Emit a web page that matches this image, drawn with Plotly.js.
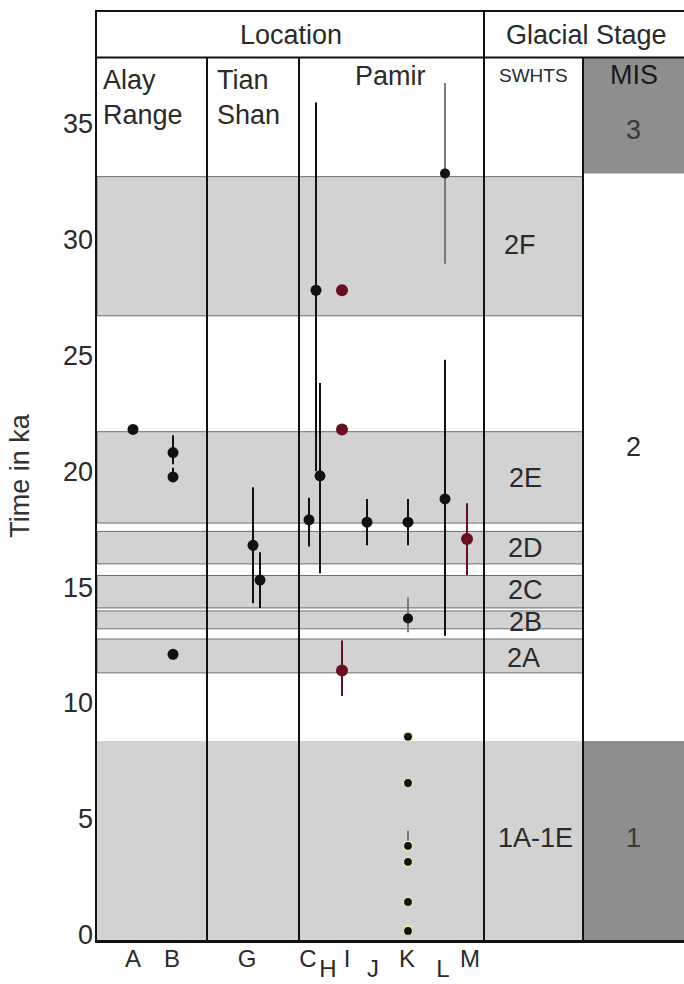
<!DOCTYPE html>
<html>
<head>
<meta charset="utf-8">
<script src="https://cdn.plot.ly/plotly-3.0.1.min.js"></script>
<style>html,body{margin:0;padding:0;background:#fff;}#chart{width:684px;height:984px;}</style>
</head>
<body>
<div id="chart"></div>
<script>
// ---------------- DATA ----------------
const sites = ['A', 'B', 'G', 'C', 'H', 'I', 'J', 'K', 'L', 'M'];
const lowerSites = ['H', 'J', 'L'];

// black dated points (ka) with asymmetric errors
const blackSite    = ['A', 'B', 'B', 'B', 'G', 'G2', 'C', 'H', 'H2', 'J', 'K', 'L'];
const blackAge     = [21.8, 20.8, 19.75, 12.1, 16.8, 15.3, 17.9, 27.8, 19.8, 17.8, 17.8, 18.8];
const blackErrUp   = [0, 0.75, 0.4, 0, 2.5, 1.2, 0.95, 8.1, 4.0, 1.0, 1.0, 6.0];
const blackErrDown = [0, 0.5, 0.2, 0, 2.5, 1.2, 1.15, 7.8, 4.2, 1.0, 1.0, 5.9];

// points with grey error bars
const greySite    = ['L', 'K'];
const greyAge     = [32.84, 13.65];
const greyErrUp   = [3.9, 0.9];
const greyErrDown = [3.9, 0.6];

// red points
const redSite    = ['I', 'I', 'I', 'M'];
const redAge     = [27.8, 21.8, 11.4, 17.07];
const redErrUp   = [0, 0, 1.3, 1.55];
const redErrDown = [0, 0, 1.1, 1.55];

// Holocene points at K
const holoSite    = ['K', 'K', 'K', 'K', 'K', 'K'];
const holoAge     = [8.55, 6.55, 3.84, 3.15, 1.42, 0.17];
const holoErrUp   = [0, 0, 0.65, 0, 0, 0];

// SWHTS glacial stages (ka)
const stageNames  = ['2F', '2E', '2D', '2C', '2B', '2A', '1A-1E'];
const stageTop    = [32.7, 21.7, 17.4, 15.5, 13.97, 12.76, 8.36];
const stageBottom = [26.7, 17.76, 16.0, 14.1, 13.2, 11.3, 0];

// MIS stages (ka)
const misNames  = ['3', '2', '1'];
const misTop    = [38.0, 32.84, 8.36];
const misBottom = [32.84, 8.36, 0];

const yTicks = [0, 5, 10, 15, 20, 25, 30, 35];

// ---------------- LAYOUT CONSTANTS ----------------
const yMin = -0.22, yMax = 39.8, headerY = 37.84;
const xMax = 587;
const colAlayTian = 110, colTianPamir = 202, colPamirSwhts = 387, colSwhtsMis = 486;
const pointX = {A: 36, B: 76, G: 156, G2: 163, C: 212, H: 219, H2: 223, I: 245, J: 270, K: 311, L: 348, M: 370};
const labelX = {A: 36, B: 75, G: 150, C: 211, H: 231, I: 250, J: 276, K: 310, L: 346, M: 373};
const stageLabelY = {'2F': 29.74, '2E': 19.7, '2D': 16.68, '2C': 14.87, '2B': 13.49, '2A': 11.94, '1A-1E': 4.18};
const stageLabelX = {'2F': 423, '2E': 428, '2D': 428, '2C': 428, '2B': 428, '2A': 426, '1A-1E': 438};
const misLabelY = {'3': 34.7, '2': 21.03, '1': 4.18};

const FONT = 'Liberation Sans, Arial, sans-serif';
const TXT = '#2a2a2a';

// ---------------- TRACES ----------------
function errTrace(site, age, up, down, markerColor, barColor, size, extra) {
  return Object.assign({
    type: 'scatter', mode: 'markers',
    x: site.map(s => pointX[s]), y: age,
    marker: {color: markerColor, size: size, symbol: 'circle'},
    error_y: {type: 'data', symmetric: false, array: up, arrayminus: down,
              color: barColor, thickness: 2, width: 0},
    hoverinfo: 'skip', showlegend: false
  }, extra || {});
}

const traces = [
  errTrace(greySite, greyAge, greyErrUp, greyErrDown, '#111', '#7a7a7a', 10),
  errTrace(blackSite, blackAge, blackErrUp, blackErrDown, '#111', '#111', 11),
  errTrace(redSite, redAge, redErrUp, redErrDown, '#6a0f20', '#6a0f20', 12),
  {
    type: 'scatter', mode: 'markers',
    x: holoSite.map(s => pointX[s]), y: holoAge,
    marker: {color: '#111', size: 9, symbol: 'circle', line: {color: '#ecec9a', width: 1.2}},
    error_y: {type: 'data', symmetric: false, array: holoErrUp, arrayminus: holoErrUp.map(() => 0),
              color: '#777', thickness: 2, width: 0},
    hoverinfo: 'skip', showlegend: false
  },
  {type: 'scatter', mode: 'markers', x: [], y: [], xaxis: 'x2', yaxis: 'y', showlegend: false}
];

// ---------------- SHAPES ----------------
const shapes = [];
stageNames.forEach((n, i) => {
  const isHolo = stageBottom[i] <= 0;
  shapes.push({type: 'rect', xref: 'x', yref: 'y', x0: 0, x1: colSwhtsMis,
    y0: isHolo ? yMin : stageBottom[i], y1: stageTop[i],
    fillcolor: '#d2d2d2', line: {color: '#6e6e6e', width: isHolo ? 0 : 1}, layer: 'below'});
});
misNames.forEach((n, i) => {
  if (n === '2') return;
  shapes.push({type: 'rect', xref: 'x', yref: 'y', x0: colSwhtsMis, x1: xMax,
    y0: misBottom[i] <= 0 ? yMin : misBottom[i], y1: n === '3' ? headerY : misTop[i],
    fillcolor: '#8e8e8e', line: {width: 0}, layer: 'below'});
});
// column dividers
[[colAlayTian, headerY], [colTianPamir, headerY], [colPamirSwhts, yMax], [colSwhtsMis, headerY]].forEach(([x, top]) => {
  shapes.push({type: 'line', xref: 'x', yref: 'y', x0: x, x1: x, y0: yMin, y1: top,
    line: {color: '#111', width: 2}});
});
// header line
shapes.push({type: 'line', xref: 'x', yref: 'y', x0: 0, x1: xMax, y0: headerY, y1: headerY,
  line: {color: '#111', width: 2}});

// ---------------- ANNOTATIONS ----------------
const ann = [];
function txt(text, x, y, size, opts) {
  ann.push(Object.assign({text: text, x: x, y: y, xref: 'x', yref: 'y', showarrow: false,
    font: {family: FONT, size: size, color: TXT}, xanchor: 'center', yanchor: 'middle'}, opts || {}));
}
txt('Location', colPamirSwhts / 2, 38.8, 27);
txt('Glacial Stage', (colPamirSwhts + xMax) / 2 + 2, 38.8, 27);
txt('Alay<br>Range', 4, 37.6, 27, {xanchor: 'left', yanchor: 'top', align: 'left'});
txt('Tian<br>Shan', colAlayTian + 8, 37.6, 27, {xanchor: 'left', yanchor: 'top', align: 'left'});
txt('Pamir', 293, 37.05, 27);
txt('SWHTS', (colPamirSwhts + colSwhtsMis) / 2, 37.07, 19);
txt('MIS', (colSwhtsMis + xMax) / 2, 37.07, 27, {font: {family: FONT, size: 27, color: '#1a1a1a'}});
stageNames.forEach(n => txt(n, stageLabelX[n], stageLabelY[n], 27));
misNames.forEach(n => txt(n, (colSwhtsMis + xMax) / 2, misLabelY[n], 27, {font: {family: FONT, size: 27, color: n === '2' ? TXT : '#3a3a3a'}}));

// ---------------- LAYOUT ----------------
const upperSites = sites.filter(s => lowerSites.indexOf(s) < 0);
const layout = {
  width: 684, height: 984,
  margin: {l: 97, r: 0, t: 12, b: 44},
  paper_bgcolor: '#fff', plot_bgcolor: '#fff',
  font: {family: FONT, color: TXT},
  xaxis: {
    range: [0, xMax], showgrid: false, zeroline: false,
    showline: true, mirror: true, linecolor: '#111', linewidth: 2.5,
    tickvals: upperSites.map(s => labelX[s]), ticktext: upperSites,
    ticks: '', ticklabelstandoff: -4, tickfont: {family: FONT, size: 24, color: TXT}, fixedrange: true
  },
  xaxis2: {
    overlaying: 'x', anchor: 'y', side: 'bottom', range: [0, xMax],
    showgrid: false, zeroline: false, showline: false,
    tickvals: lowerSites.map(s => labelX[s]), ticktext: lowerSites,
    ticks: '', ticklabelstandoff: 12, tickfont: {family: FONT, size: 24, color: TXT}
  },
  yaxis: {
    range: [yMin, yMax], showgrid: false, zeroline: false,
    showline: true, mirror: true, linecolor: '#111', linewidth: 2.5,
    tickvals: yTicks, ticks: '', ticklabelstandoff: -4, tickfont: {family: FONT, size: 27, color: TXT},
    title: {text: 'Time in ka', font: {family: FONT, size: 27, color: '#333'}, standoff: 26}
  },
  shapes: shapes,
  annotations: ann,
  showlegend: false
};

Plotly.newPlot('chart', traces, layout, {displayModeBar: false, staticPlot: true});
</script>
</body>
</html>
